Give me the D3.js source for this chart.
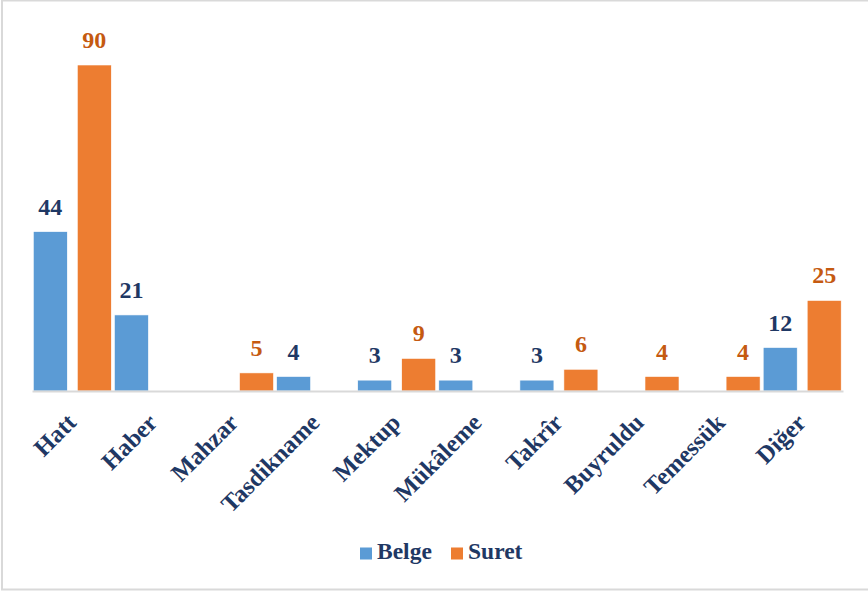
<!DOCTYPE html>
<html>
<head>
<meta charset="utf-8">
<script src="https://cdn.jsdelivr.net/npm/d3@7"></script>
<style>
  html, body { margin: 0; padding: 0; background: #fff; }
  svg { display: block; }
  text { font-family: "Liberation Serif", "Times New Roman", serif; font-weight: bold; }
</style>
</head>
<body>
<script>
const categories = ["Hatt", "Haber", "Mahzar", "Tasdikname", "Mektup", "Mükâleme", "Takrîr", "Buyruldu", "Temessük", "Diğer"];
const seriesNames = ["Belge", "Suret"];
const belgeValues = [44, 21, null, 4, 3, 3, 3, null, null, 12];
const suretValues = [90, null, 5, null, 9, null, 6, 4, 4, 25];

const W = 868, H = 593;
const colors = { Belge: "#5b9bd5", Suret: "#ed7d31" };
const labelColors = { Belge: "#1f3864", Suret: "#c55a11" };
const navy = "#1f3864";

const svg = d3.select("body").append("svg").attr("width", W).attr("height", H);

// chart border
svg.append("rect").attr("x", 2).attr("y", 0.5).attr("width", W + 10).attr("height", 589)
  .attr("fill", "#fff").attr("stroke", "#d9d9d9").attr("stroke-width", 2);

const x = d3.scaleBand().domain(categories).range([32, 843]).paddingInner(0).paddingOuter(0);
const xInner = d3.scaleBand().domain(seriesNames).range([1.3, 79.3]).paddingInner(0.227).paddingOuter(0);
const y = d3.scaleLinear().domain([0, 90]).range([391, 65]);

const data = [];
categories.forEach((c, i) => {
  data.push({ cat: c, series: "Belge", value: belgeValues[i] });
  data.push({ cat: c, series: "Suret", value: suretValues[i] });
});
const present = data.filter(d => d.value != null);

svg.append("g").selectAll("rect").data(present).join("rect")
  .attr("x", d => x(d.cat) + xInner(d.series))
  .attr("width", xInner.bandwidth())
  .attr("y", d => y(d.value))
  .attr("height", d => y(0) - y(d.value))
  .attr("fill", d => colors[d.series])
  .attr("stroke", "#fff").attr("stroke-width", 0.6);

// baseline axis
const axis = svg.append("g").attr("transform", `translate(0,${y(0)})`)
  .call(d3.axisBottom(x).tickSize(0).tickFormat(""));
axis.select(".domain").attr("stroke", "#d9d9d9").attr("stroke-width", 2);

// category labels
svg.append("g").selectAll("text").data(categories).join("text")
  .attr("transform", c => `translate(${x(c) + x.bandwidth() / 2 + 5},${424}) rotate(-45)`)
  .attr("text-anchor", "end")
  .attr("font-size", 24.5)
  .attr("fill", navy)
  .text(c => c);

// value labels
svg.append("g").selectAll("text").data(present).join("text")
  .attr("x", d => x(d.cat) + xInner(d.series) + xInner.bandwidth() / 2)
  .attr("y", d => y(d.value) - 17)
  .attr("text-anchor", "middle")
  .attr("font-size", 24)
  .attr("fill", d => labelColors[d.series])
  .text(d => d.value);

// legend
const legendItems = [{ name: "Belge", x: 360 }, { name: "Suret", x: 451 }];
const lg = svg.append("g");
legendItems.forEach(it => {
  lg.append("rect").attr("x", it.x).attr("y", 547.5).attr("width", 12).attr("height", 12)
    .attr("fill", colors[it.name]);
  lg.append("text").attr("x", it.x + 17).attr("y", 559)
    .attr("font-size", 23.5).attr("fill", navy).text(it.name);
});
</script>
</body>
</html>
